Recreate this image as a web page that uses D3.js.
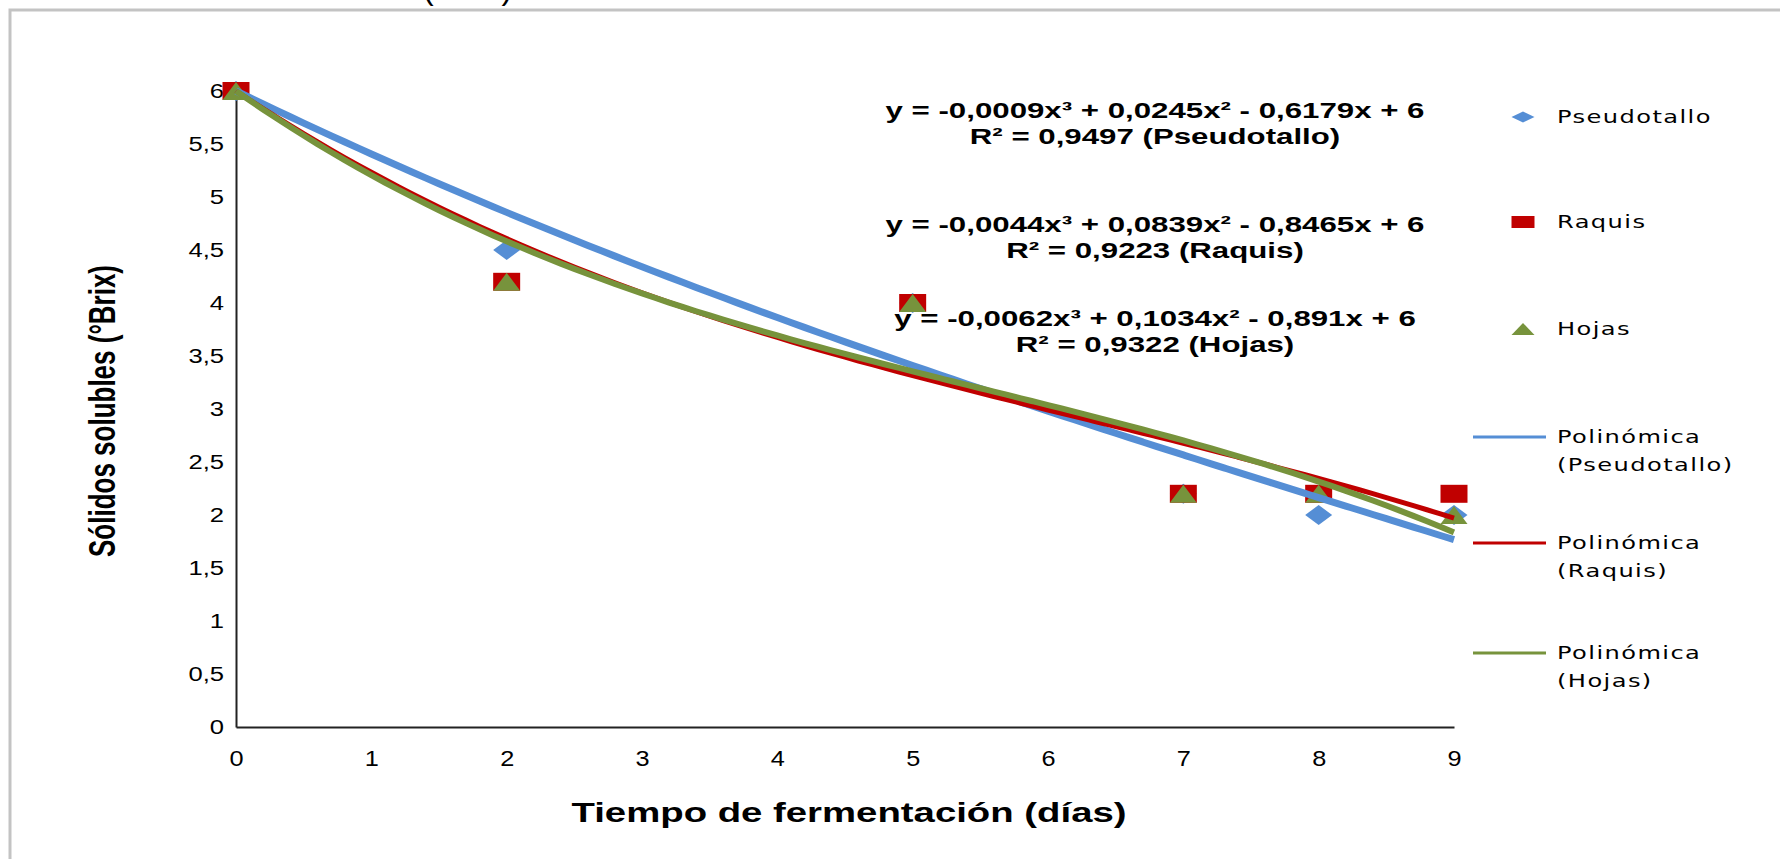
<!DOCTYPE html>
<html>
<head>
<meta charset="utf-8">
<script src="https://cdn.jsdelivr.net/npm/d3@7"></script>
<style>
    body { margin: 0; background: #fff; }
    .tick text { font-family: "Liberation Sans", Arial, sans-serif; fill: #000; }
    .eq { font-family: "Liberation Sans", Arial, sans-serif; font-weight: bold; font-size: 22px; fill: #000; }
    .legend-text { font-family: "DejaVu Sans", Verdana, sans-serif; font-size: 17px; letter-spacing: 1px; fill: #000; }
    .axis-title { font-family: "Liberation Sans", Arial, sans-serif; font-weight: bold; fill: #000; }
</style>
</head>
<body>
<div id="chart"></div>
<script>

// days of fermentation where samples were read
let days = [0, 2, 5, 7, 8, 9];

// soluble solids (°Brix) per residue
let pseudotallo = [6, 4.5, 4.0, 2.2, 2.0, 2.0];
let raquis = [6, 4.2, 4.0, 2.2, 2.2, 2.2];
let hojas = [6, 4.2, 4.0, 2.2, 2.2, 2.0];

// polynomial trendline coefficients, [c0, c1, c2, c3] as printed on the chart
let coefPseudotallo = [6, -0.6179, 0.0245, -0.0009];
let coefRaquis = [6, -0.8465, 0.0839, -0.0044];
let coefHojas = [6, -0.891, 0.1034, -0.0062];

let equations = [
    ["y = -0,0009x³ + 0,0245x² - 0,6179x + 6", "R² = 0,9497 (Pseudotallo)"],
    ["y = -0,0044x³ + 0,0839x² - 0,8465x + 6", "R² = 0,9223 (Raquis)"],
    ["y = -0,0062x³ + 0,1034x² - 0,891x + 6", "R² = 0,9322 (Hojas)"]
];

let seriesNames = ["Pseudotallo", "Raquis", "Hojas"];
let trendNames = [["Polinómica", "(Pseudotallo)"], ["Polinómica", "(Raquis)"], ["Polinómica", "(Hojas)"]];
let xTicks = [0, 1, 2, 3, 4, 5, 6, 7, 8, 9];
let yTicks = [0, 0.5, 1, 1.5, 2, 2.5, 3, 3.5, 4, 4.5, 5, 5.5, 6];

class SolidsChart {

    constructor(parentElement) {
        this.parentElement = parentElement;
        this.sx = 1.42; // the original picture is stretched sideways
        this.colors = ["#558ED5", "#C00000", "#77933C"];
        this.shapes = ["diamond", "square", "triangle"];
        this.initVis();
    }

    initVis() {
        let vis = this;
        vis.width = 1780;
        vis.height = 859;

        vis.svg = d3.select("#" + vis.parentElement).append("svg")
            .attr("width", vis.width)
            .attr("height", vis.height);

        vis.svg.append("rect")
            .attr("width", vis.width).attr("height", vis.height)
            .attr("fill", "#fff");

        // frame of the chart area (runs off the right and bottom)
        vis.svg.append("rect")
            .attr("x", 10).attr("y", 10)
            .attr("width", 1800).attr("height", 900)
            .attr("fill", "none")
            .attr("stroke", "#c3c3c3")
            .attr("stroke-width", 3);

        // cut-off caption at the very top, only the bracket tails show
        vis.svg.append("text")
            .attr("x", 423).attr("y", -1)
            .style("font-family", "Liberation Sans, Arial, sans-serif")
            .style("font-size", "32px")
            .text("(°Brix)");

        vis.x = d3.scaleLinear().domain([0, 9]).range([236, 1454]);
        vis.y = d3.scaleLinear().domain([0, 6]).range([727, 91]);

        vis.wrangleData();
    }

    wrangleData() {
        let vis = this;
        let ys = [pseudotallo, raquis, hojas];
        let coefs = [coefPseudotallo, coefRaquis, coefHojas];

        vis.points = ys.map((arr, i) => days.map((d, j) => ({day: d, value: arr[j], s: i})));

        // trendline = the printed polynomial, drawn over the day range
        let xs = d3.range(0, 9.001, 0.1);
        vis.trends = coefs.map(c => xs.map(x => ({day: x, value: c[0] + c[1] * x + c[2] * x * x + c[3] * x * x * x})));

        vis.updateVis();
    }

    markerPath(shape, w, h) {
        if (shape === "diamond") return `M0,${-h / 2}L${w / 2},0L0,${h / 2}L${-w / 2},0Z`;
        if (shape === "square") return `M${-w / 2},${-h / 2}H${w / 2}V${h / 2}H${-w / 2}Z`;
        return `M0,${-h / 2}L${w / 2},${h / 2}L${-w / 2},${h / 2}Z`;
    }

    updateVis() {
        let vis = this;

        // axes
        let yAxis = d3.axisLeft(vis.y).tickValues(yTicks).tickSize(0).tickSizeOuter(0)
            .tickFormat(d => String(d).replace(".", ","));
        let yg = vis.svg.append("g").attr("transform", "translate(236,0)").call(yAxis);
        yg.selectAll(".tick text")
            .attr("x", null)
            .attr("transform", "translate(-12,0) scale(1.22,1)")
            .style("font-size", "21px");

        let xAxis = d3.axisBottom(vis.x).tickValues(xTicks).tickSize(0).tickSizeOuter(0);
        let xg = vis.svg.append("g").attr("transform", "translate(0,727)").call(xAxis);
        xg.selectAll(".tick text")
            .attr("y", 23)
            .attr("transform", "scale(1.15,1)")
            .style("font-size", "22px");

        [yg, xg].forEach(g => g.select(".domain").attr("stroke", "#222").attr("stroke-width", 2));

        // axis titles
        vis.svg.append("text").attr("class", "axis-title")
            .attr("transform", `translate(849,822) scale(${vis.sx},1)`)
            .attr("text-anchor", "middle")
            .style("font-size", "27px")
            .text("Tiempo de fermentación (días)");

        vis.svg.append("text").attr("class", "axis-title")
            .attr("transform", `translate(115,411) scale(${vis.sx},1) rotate(-90)`)
            .attr("text-anchor", "middle")
            .style("font-size", "26px")
            .text("Sólidos solubles (°Brix)");

        // equation labels
        let eqY = [118, 232, 326];
        equations.forEach((lines, i) => {
            lines.forEach((t, k) => {
                vis.svg.append("text").attr("class", "eq")
                    .attr("transform", `translate(1155,${eqY[i] + k * 26}) scale(${vis.sx},1)`)
                    .attr("text-anchor", "middle")
                    .text(t);
            });
        });

        // data markers
        vis.points.forEach((pts, i) => {
            vis.svg.append("g").selectAll("path")
                .data(pts)
                .enter()
                .append("path")
                .attr("transform", d => `translate(${vis.x(d.day)},${vis.y(d.value)})`)
                .attr("d", vis.markerPath(vis.shapes[i], 27, i === 0 ? 20 : 18))
                .attr("fill", vis.colors[i]);
        });

        // trendlines on top
        let line = d3.line().x(d => vis.x(d.day)).y(d => vis.y(d.value)).curve(d3.curveMonotoneX);
        let widths = [7, 5, 6];
        vis.trends.forEach((tr, i) => {
            vis.svg.append("path")
                .datum(tr)
                .attr("d", line)
                .attr("fill", "none")
                .attr("stroke", vis.colors[i])
                .attr("stroke-width", widths[i]);
        });

        // legend
        let legX = 1523, textX = 1557;
        let markY = [117, 222, 329];
        seriesNames.forEach((name, i) => {
            vis.svg.append("path")
                .attr("transform", `translate(${legX},${markY[i]})`)
                .attr("d", vis.markerPath(vis.shapes[i], 23, i === 0 ? 11 : 12))
                .attr("fill", vis.colors[i]);
            vis.svg.append("text").attr("class", "legend-text")
                .attr("transform", `translate(${textX},${markY[i] + 6}) scale(${vis.sx},1)`)
                .text(name);
        });

        let lineY = [437, 543, 653];
        trendNames.forEach((lines, i) => {
            vis.svg.append("line")
                .attr("x1", 1473).attr("x2", 1546)
                .attr("y1", lineY[i]).attr("y2", lineY[i])
                .attr("stroke", vis.colors[i])
                .attr("stroke-width", 3);
            lines.forEach((t, k) => {
                vis.svg.append("text").attr("class", "legend-text")
                    .attr("transform", `translate(${textX},${lineY[i] + 6 + k * 28}) scale(${vis.sx},1)`)
                    .text(t);
            });
        });
    }
}

new SolidsChart("chart");
</script>
</body>
</html>
